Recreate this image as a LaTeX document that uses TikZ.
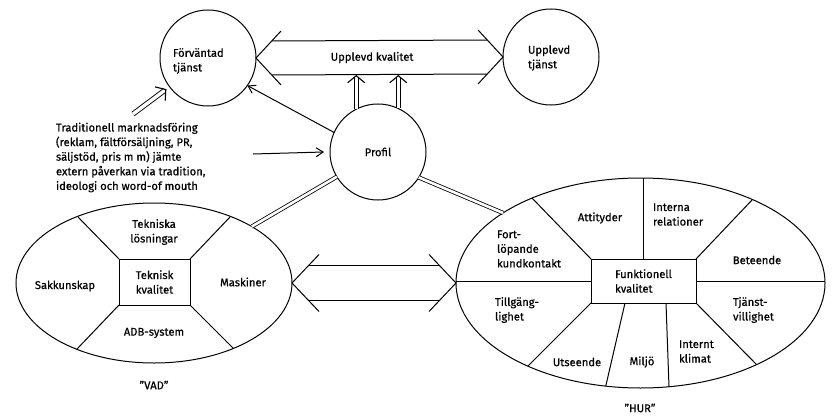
\documentclass[tikz,border=0pt]{standalone}
\usepackage{fontspec}
\setmainfont{Fira Sans}[FakeBold=0.6]
\usetikzlibrary{arrows.meta,shapes.geometric,calc}
\begin{document}
\begin{tikzpicture}[x=1pt,y=-1pt,
  every node/.style={font=\fontsize{11.2}{14.6}\selectfont, inner sep=0pt, outer sep=0pt},
  ln/.style={line width=1pt},
  circ/.style={circle, draw, line width=1pt, minimum size=96pt},
  ell/.style={ellipse, draw, line width=1pt},
  box/.style={draw, line width=1pt, align=center},
  lbl/.style={align=center},
  lbll/.style={align=left, anchor=west},
  arr/.style={line width=1pt, -{Straight Barb[length=7pt,width=9pt]}},
  dbl/.style={double, double distance=2.6pt, line width=0.8pt},
  dblshaft/.style={double, double distance=3.4pt, line width=0.9pt},
  dblhead/.style={line width=1.1pt, -{Straight Barb[length=7pt,width=17pt]}}
]
\useasboundingbox (0,0) rectangle (834,417);

% top circles
\node[circ] (fc) at (208,58) {};
\node[lbll] (fct) at (173,61) {Förväntad\\tjänst};
\node[circ] (uc) at (551,57) {};
\node[lbll] (uct) at (528,58) {Upplevd\\tjänst};

% big open double arrow
\coordinate (L) at (fc.east);
\coordinate (R) at (uc.west);
\draw[ln] ($(L)+(25,-27)$) -- (L) -- ($(L)+(25,27)$);
\draw[ln] ($(R)+(-25,-27)$) -- (R) -- ($(R)+(-25,27)$);
\draw[ln] ($(L)+(15.7,-17)$) -- ($(R)+(-15.7,-17)$);
\draw[ln] ($(L)+(15.7,17)$) -- ($(R)+(-15.7,17)$);
\coordinate (bot) at ($(L)+(0,17)$);
\node[lbl] (uk) at ($(L)!0.47!(R)$) {Upplevd kvalitet};

% profil
\node[circ] (prof) at (378,152) {};
\node[lbl] (proft) at (378,152) {Profil};
\coordinate (u1) at (prof.117 |- bot);
\coordinate (u2) at (prof.65 |- bot);
\draw[dblshaft] (prof.117) -- ($(u1)+(0,2)$);
\draw[dblhead] ($(u1)+(0,0.5)$) -- (u1);
\draw[dblshaft] (prof.65) -- ($(u2)+(0,2)$);
\draw[dblhead] ($(u2)+(0,0.5)$) -- (u2);
\draw[arr] (prof.156) -- (fc.-35);

% text
\node[lbll] (trad) at (56,157.5) {Traditionell marknadsföring\\(reklam, fältförsäljning, PR,\\säljstöd, pris m m) jämte\\extern påverkan via tradition,\\ideologi och word-of mouth};
\coordinate (t1) at (253,154);
\draw[arr] (t1) -- ([xshift=-6pt]prof.west);
\coordinate (t2) at (133,114);
\coordinate (t3) at ($(fc.center)!52pt!(t2)$);
\draw[dblshaft] (t2) -- ($(t3)!2pt!(t2)$);
\draw[dblhead] ($(t3)!0.5pt!(t2)$) -- (t3);

% left ellipse
\node[ell, minimum width=276pt, minimum height=160pt] (lell) at (154,283) {};
\node[box, minimum width=71pt, minimum height=46pt] (tk) at (154.5,282) {Teknisk\\kvalitet};
\begin{scope}
  \clip (lell.center) ellipse [x radius=138pt, y radius=80pt];
  \draw[ln] (tk.north west) -- ($(tk.north west)!3!(78,217)$);
  \draw[ln] (tk.north east) -- ($(tk.north east)!3!(230,217)$);
  \draw[ln] (tk.south west) -- ($(tk.south west)!3!(78,348)$);
  \draw[ln] (tk.south east) -- ($(tk.south east)!3!(232,347)$);
\end{scope}
\node[lbl] (tl) at (154,232) {Tekniska\\lösningar};
\node[lbl] (sk) at (65,286) {Sakkunskap};
\node[lbl] (mk) at (243,282) {Maskiner};
\node[lbl] (adb) at (154,333) {ADB-system};
\node[lbl] (vad) at (154,385) {”VAD”};

% right ellipse
\node[ell, minimum width=369pt, minimum height=210pt] (rell) at (640.5,283) {};
\node[box, minimum width=105pt, minimum height=44pt, align=left] (fk) at (643.5,281) {Funktionell\\kvalitet};
\begin{scope}
  \clip (rell.center) ellipse [x radius=184.5pt, y radius=105pt];
  \draw[ln] (fk.west) -- ++(-200,0);
  \draw[ln] (fk.east) -- ++(200,0);
  \draw[ln] (fk.north) -- ++(0,-150);
  \draw[ln] (fk.north west) -- ($(fk.north west)!3!(531,197)$);
  \draw[ln] (fk.north east) -- ($(fk.north east)!3!(752,200)$);
  \draw[ln] (fk.south east) -- ($(fk.south east)!3!(755,363)$);
  \draw[ln] (fk.south west) -- ($(fk.south west)!3!(529,365)$);
  \draw[ln] ([xshift=22.5pt]fk.south) -- ($([xshift=22.5pt]fk.south)!3!(669,387)$);
  \draw[ln] ([xshift=-18.5pt]fk.south) -- ($([xshift=-18.5pt]fk.south)!3!(606,385)$);
\end{scope}
\node[lbll] (fl) at (497,249) {Fort-\\löpande\\kundkontakt};
\node[lbl] (at) at (600,218) {Attityder};
\node[lbll] (ir) at (653,214.5) {Interna\\relationer};
\node[lbl] (bt) at (757,260) {Beteende};
\node[lbll] (tg) at (495,310) {Tillgäng-\\lighet};
\node[lbl] (ut) at (577,362) {Utseende};
\node[lbl] (mj) at (642,362) {Miljö};
\node[lbll] (ik) at (679,351.5) {Internt\\klimat};
\node[lbll] (tv) at (733,310) {Tjänst-\\villighet};
\node[lbl] (hur) at (640,408) {”HUR”};

% links
\draw[dbl] (prof.-149) -- (lell.30);
\draw[dbl] (prof.-32) -- (rell.153);

% middle open double arrow
\coordinate (L2) at (lell.east);
\coordinate (R2) at (rell.west);
\draw[ln] ($(L2)+(27,-28.5)$) -- (L2) -- ($(L2)+(27,28.5)$);
\draw[ln] ($(R2)+(-27,-28.5)$) -- (R2) -- ($(R2)+(-27,28.5)$);
\draw[ln] ($(L2)+(16.6,-17.5)$) -- ($(R2)+(-16.6,-17.5)$);
\draw[ln] ($(L2)+(16.6,17.5)$) -- ($(R2)+(-16.6,17.5)$);
\end{tikzpicture}
\end{document}
